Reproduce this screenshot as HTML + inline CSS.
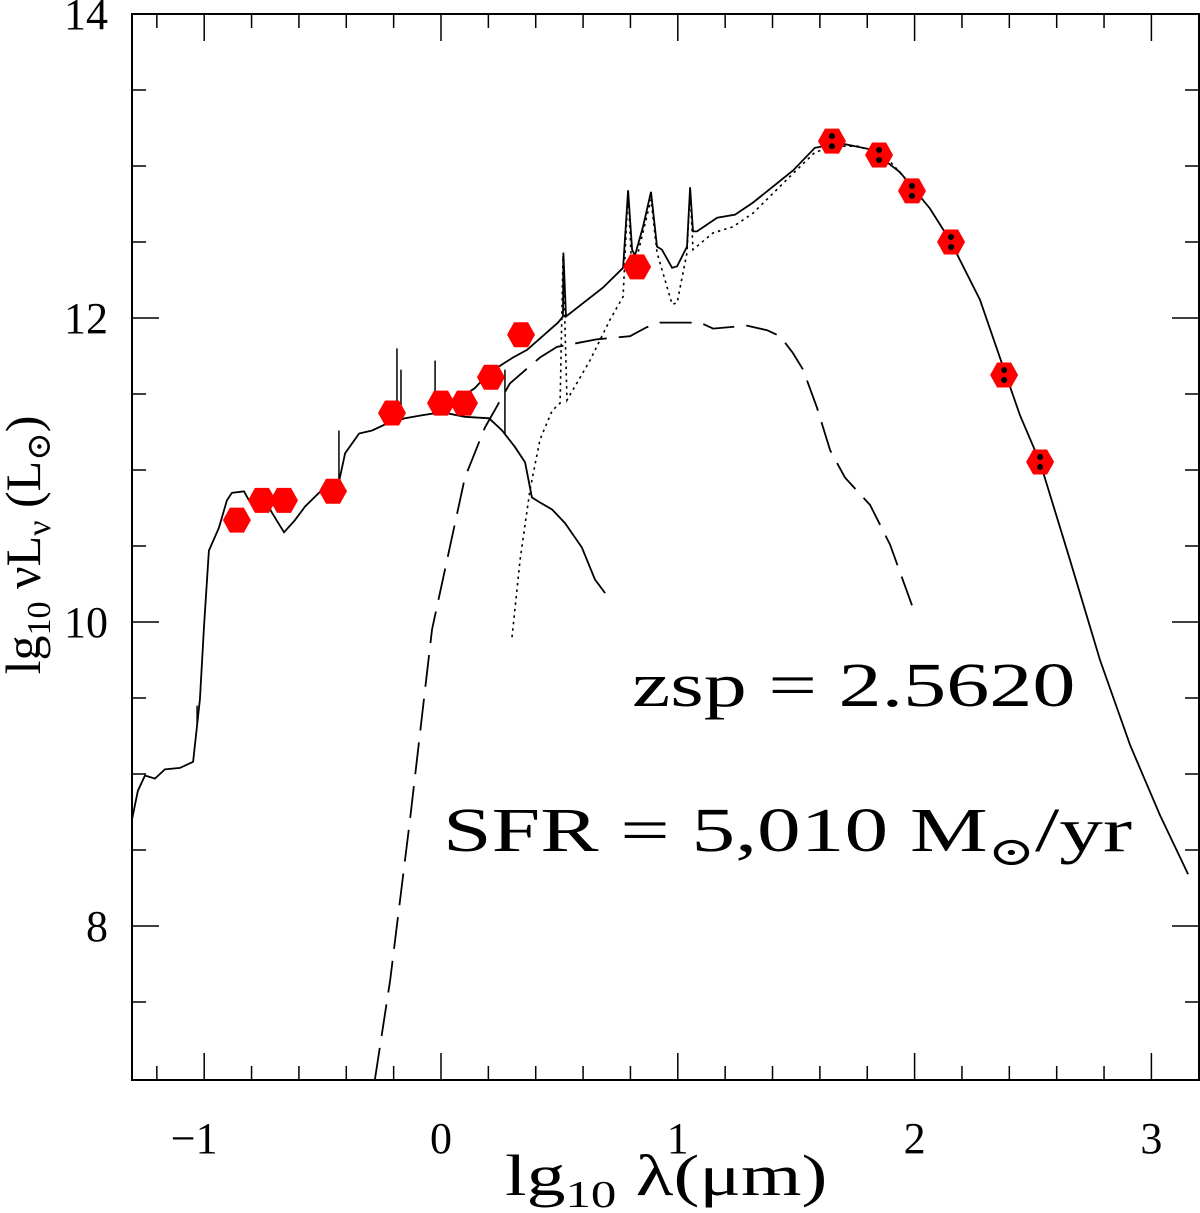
<!DOCTYPE html>
<html><head><meta charset="utf-8"><style>
html,body{margin:0;padding:0;background:#fff;}
svg{display:block;font-family:"Liberation Serif","DejaVu Serif",serif;}
</style></head><body>
<svg id="chart" width="1200" height="1213" viewBox="0 0 1200 1213" xmlns="http://www.w3.org/2000/svg">
<rect x="0" y="0" width="1200" height="1213" fill="#fff"/>
<g id="curves"></g>
<g id="points"></g>
<rect x="132" y="14" width="1067" height="1066" fill="none" stroke="#000" stroke-width="2"/>
<g id="ticks"></g>
<text transform="translate(632,706) scale(1.39,1)" x="0" y="0" font-size="62">zsp = 2.5620</text>
<text transform="translate(443,851) scale(1.41,1)" x="0" y="0" font-size="62">SFR = 5,010 M<tspan font-size="40" dy="14">⊙</tspan><tspan dy="-14">/yr</tspan></text>
<text transform="translate(505,1195) scale(1.34,1)" x="0" y="0" font-size="58">lg<tspan font-size="38" dy="12">10</tspan><tspan dy="-12"> λ(μm)</tspan></text>
<text transform="translate(40,545) rotate(-90)" font-size="50" text-anchor="middle">lg<tspan font-size="34" dy="10">10</tspan><tspan dy="-10"> νL</tspan><tspan font-size="34" dy="10">ν</tspan><tspan dy="-10"> (L</tspan><tspan font-size="34" dy="10">⊙</tspan><tspan dy="-10">)</tspan></text>
</svg>
<script>
const xTickVals=[-1,0,1,2,3];
const yTickVals=[8,10,12,14];
const pointX=[-0.862,-0.756,-0.663,-0.456,-0.207,0,0.097,0.211,0.338,0.828,1.651,1.850,1.989,2.154,2.378,2.530];
const pointY=[10.67,10.80,10.80,10.86,11.375,11.44,11.44,11.61,11.89,12.336,13.164,13.072,12.836,12.50,11.625,11.053];
const stellarX=[-1.305,-1.28,-1.25,-1.208,-1.166,-1.102,-1.047,-1.018,-1.001,-0.98,-0.938,-0.904,-0.883,-0.832,-0.811,-0.756,-0.714,-0.663,-0.617,-0.574,-0.515,-0.431,-0.405,-0.346,-0.291,-0.236,-0.152,-0.08,0.004,0.101,0.203,0.258,0.313,0.355,0.384,0.414,0.469,0.524,0.595,0.65,0.693];
const stellarY=[8.70,8.89,8.99,8.97,9.03,9.04,9.08,9.49,9.97,10.47,10.62,10.80,10.85,10.86,10.80,10.84,10.72,10.59,10.67,10.76,10.85,10.92,11.11,11.24,11.26,11.30,11.34,11.36,11.38,11.35,11.34,11.26,11.15,11.05,10.82,10.79,10.74,10.65,10.49,10.28,10.19];
const lineX=[-0.431,-0.186,-0.169,-0.025,0.270,-1.03];
const lineTop=[11.26,11.80,11.66,11.72,11.66,9.45];
const totalX=[0.004,0.144,0.203,0.304,0.363,0.494,0.515,0.517,0.528,0.684,0.769,0.790,0.807,0.819,0.853,0.887,0.912,0.933,0.976,0.997,1.039,1.052,1.064,1.081,1.166,1.242,1.318,1.486,1.579,1.685,1.812,1.938,2.065,2.150,2.276,2.378,2.445,2.530,2.656,2.783,2.910,3.036,3.155];
const totalY=[11.39,11.54,11.64,11.74,11.79,11.97,12.01,12.43,12.01,12.20,12.33,12.84,12.45,12.41,12.60,12.83,12.47,12.45,12.33,12.34,12.47,12.86,12.57,12.57,12.66,12.68,12.76,12.97,13.12,13.15,13.11,12.96,12.72,12.51,12.12,11.66,11.36,11.05,10.41,9.75,9.19,8.73,8.34];
const coldX=[0.300,0.334,0.376,0.418,0.469,0.503,0.515,0.532,0.629,0.714,0.769,0.790,0.807,0.887,0.912,0.976,0.997,1.039,1.052,1.064,1.149,1.233,1.318,1.486,1.579,1.664,1.769,1.896,1.981];
const coldY=[9.90,10.41,10.87,11.20,11.39,11.44,12.41,11.46,11.72,11.99,12.14,12.84,12.27,12.78,12.43,12.09,12.10,12.43,12.84,12.45,12.56,12.60,12.69,12.95,13.09,13.13,13.13,13.03,12.88];
const hotX=[-0.279,-0.215,-0.131,-0.038,0.101,0.186,0.291,0.418,0.490,0.659,0.798,0.870,0.925,0.997,1.094,1.149,1.292,1.377,1.432,1.486,1.529,1.588,1.643,1.706,1.812,1.896,1.989];
const hotY=[6.99,7.64,8.70,9.95,10.95,11.28,11.57,11.74,11.81,11.86,11.88,11.94,11.97,11.97,11.97,11.93,11.95,11.92,11.88,11.77,11.66,11.41,11.13,10.95,10.77,10.51,10.11];

const NS='http://www.w3.org/2000/svg';
const X0=441, XS=236.8, Y0=14, YS=152;
function sx(v){return X0+v*XS;}
function sy(v){return Y0+(14-v)*YS;}
function mk(tag,attrs,parent){const e=document.createElementNS(NS,tag);for(const k in attrs)e.setAttribute(k,attrs[k]);parent.appendChild(e);return e;}
function interp(xs,ys,x){for(let i=0;i<xs.length-1;i++){if(x>=xs[i]&&x<=xs[i+1]){const t=(x-xs[i])/(xs[i+1]-xs[i]);return ys[i]+t*(ys[i+1]-ys[i]);}}return ys[0];}
function pathD(xs,ys){return xs.map((x,i)=>(i?'L':'M')+sx(x).toFixed(1)+','+sy(ys[i]).toFixed(1)).join(' ');}

const curves=document.getElementById('curves');
let p;
p=mk('path',{d:pathD(stellarX,stellarY),fill:'none',stroke:'#000','stroke-width':1.8},curves);


lineX.forEach((x,i)=>{
  const l=mk('line',{x1:sx(x),x2:sx(x),y1:sy(interp(stellarX,stellarY,x)),y2:sy(lineTop[i]),stroke:'#000','stroke-width':1.5},curves);
  
  
});
p=mk('path',{d:pathD(totalX,totalY),fill:'none',stroke:'#000','stroke-width':1.8},curves);


p=mk('path',{d:pathD(coldX,coldY),fill:'none',stroke:'#000','stroke-width':1.6,'stroke-dasharray':'2.5 4'},curves);


p=mk('path',{d:pathD(hotX,hotY),fill:'none',stroke:'#000','stroke-width':1.8,'stroke-dasharray':'32 12'},curves);



const pts=document.getElementById('points');
pointX.forEach((x,i)=>{
  const cx=sx(x), cy=sy(pointY[i]), r=14, h=12.5;
  const poly=mk('polygon',{points:[[cx-r,cy],[cx-r/2,cy-h],[cx+r/2,cy-h],[cx+r,cy],[cx+r/2,cy+h],[cx-r/2,cy+h]].map(a=>a.join(',')).join(' '),fill:'#f00'},pts);
  
  
  if(x>1.5){
    [-5,5].forEach(d=>{
      const c=mk('circle',{cx:cx,cy:cy+d,r:3,fill:'#000'},pts);
      
      
    });
  }
});

const tk=document.getElementById('ticks');
for(let v=-1.2;v<=3.2;v+=0.2){
  const vv=Math.round(v*10)/10; const major=Math.abs(vv-Math.round(vv))<1e-6; const L=major?27:14;
  const x=sx(vv); if(x<133||x>1198)continue;
  let t=mk('line',{x1:x,x2:x,y1:1080,y2:1080-L,stroke:'#000','stroke-width':1.5},tk);
  
  
  t=mk('line',{x1:x,x2:x,y1:14,y2:14+L,stroke:'#000','stroke-width':1.5},tk);
  
  
}
for(let v=7.5;v<14;v+=0.5){
  const major=Math.abs(v-Math.round(v))<1e-6&&Math.round(v)%2===0; const L=major?27:14; const y=sy(v);
  let t=mk('line',{x1:132,x2:132+L,y1:y,y2:y,stroke:'#000','stroke-width':1.5},tk);
  
  
  t=mk('line',{x1:1199,x2:1199-L,y1:y,y2:y,stroke:'#000','stroke-width':1.5},tk);
  
  
}
xTickVals.forEach(v=>{
  const t=mk('text',{x:sx(v)-(v<0?10:0),y:1153,'font-size':44,'text-anchor':'middle'},tk);
  t.textContent=v<0?'−'+Math.abs(v):String(v);
  
  
});
yTickVals.forEach(v=>{
  const t=mk('text',{x:108,y:sy(v)+15,'font-size':44,'text-anchor':'end'},tk);
  t.textContent=String(v);
  
  
});
</script>
</body></html>
